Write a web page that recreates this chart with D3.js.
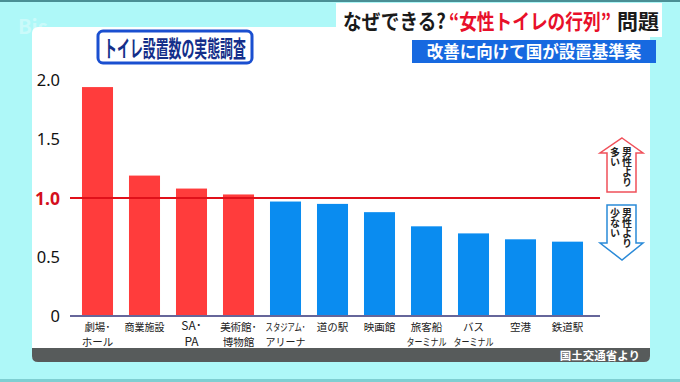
<!DOCTYPE html>
<html><head><meta charset="utf-8">
<script src="https://cdn.jsdelivr.net/npm/d3@7/dist/d3.min.js"></script>
<style>
html,body{margin:0;padding:0;background:#aef8f8;}
svg{display:block;font-family:"Noto Sans CJK JP","Noto Sans",sans-serif;}
</style></head>
<body>
<svg id="c" width="680" height="382"></svg>
<script>
const categories = ["劇場･\nホール","商業施設","SA･\nPA","美術館･\n博物館","スタジアム･\nアリーナ","道の駅","映画館","旅客船\nターミナル","バス\nターミナル","空港","鉄道駅"];
const values = [1.94, 1.19, 1.08, 1.03, 0.97, 0.95, 0.88, 0.76, 0.70, 0.65, 0.63];
const yTicks = [0, 0.5, 1.0, 1.5, 2.0];
const yTickLabels = ["0", "0.5", "1.0", "1.5", "2.0"];
const referenceValue = 1.0;
const title = "トイレ設置数の実態調査";
const headlineParts = ["なぜできる?", "“女性トイレの行列”", "問題"];
const subHeadline = "改善に向けて国が設置基準案";
const source = "国土交通省より";
const upLabel = ["男性より","多い"];
const downLabel = ["男性より","少ない"];

const svg = d3.select("#c");
const RED = "#ff3c3c", BLUE = "#0a8cf0", LINE_RED = "#e0101a";

// place a text at (x,y) with anchor, horizontally squeezed to fit maxW
function fitText(parent, str, x0, y0, maxW, anchor, attrs){
  const t = parent.append("text").attr("text-anchor",anchor).text(str);
  Object.entries(attrs).forEach(([k,v])=>t.attr(k,v));
  const w = t.node().getComputedTextLength();
  const s = w > maxW ? maxW / w : 1;
  t.attr("transform",`translate(${x0},${y0}) scale(${s},1)`);
  return t;
}

// background
svg.append("rect").attr("width",680).attr("height",382).attr("fill","#aef8f8");
svg.append("rect").attr("x",0).attr("y",0).attr("width",680).attr("height",2).attr("fill","#4a8f95");
svg.append("rect").attr("x",0).attr("y",379).attr("width",680).attr("height",3).attr("fill","#7fcfd2");
// faint logo
svg.append("text").attr("x",18).attr("y",34).attr("font-size",20).attr("font-weight",700)
  .attr("fill","#ffffff").attr("opacity",0.35).text("Bis");

// white panel
svg.append("rect").attr("x",32).attr("y",27).attr("width",618).attr("height",335).attr("rx",6).attr("fill","#ffffff");
// footer band
svg.append("path").attr("d","M32,348 H650 V356 Q650,362 644,362 H38 Q32,362 32,356 Z").attr("fill","#575b5b");
svg.append("text").attr("x",640).attr("y",359.5).attr("text-anchor","end").attr("font-size",11.5)
  .attr("font-weight",700).attr("fill","#ffffff").text(source);

// header white box
svg.append("rect").attr("x",336).attr("y",3).attr("width",326).attr("height",34).attr("fill","#ffffff");
const hx = [343, 449, 617], hw = [103, 162, 42], hc = ["#1a1a1a","#e8102a","#1a1a1a"];
headlineParts.forEach((p,i)=>{
  fitText(svg, p, hx[i], 29, hw[i], "start", {"font-size":21,"font-weight":700,"fill":hc[i]});
});
// sub header
svg.append("rect").attr("x",412).attr("y",40).attr("width",244).attr("height",23).attr("fill","#1769e0");
svg.append("text").attr("x",534).attr("y",58).attr("text-anchor","middle").attr("font-size",16.5).attr("font-weight",700)
  .attr("fill","#ffffff").text(subHeadline);

// title box
svg.append("rect").attr("x",98).attr("y",31).attr("width",154).attr("height",32).attr("rx",5)
  .attr("fill","#ffffff").attr("stroke","#1a4fd0").attr("stroke-width",3);
fitText(svg, title, 175, 56.5, 142, "middle", {"font-size":23,"font-weight":700,"fill":"#142f8a"});

// scales
const x = d3.scaleBand().domain(categories).range([74, 591]).paddingInner(0.34).paddingOuter(0.17);
const y = d3.scaleLinear().domain([0, 2]).range([316, 80]);

// y labels
const yAxis = d3.axisLeft(y).tickValues(yTicks).tickSize(0).tickPadding(0)
  .tickFormat((d,i)=>yTickLabels[i]);
const ga = svg.append("g").attr("transform","translate(60,0)").call(yAxis);
ga.select(".domain").remove();
ga.selectAll("text").attr("font-size",16.5).attr("fill","#111").attr("font-family","'Noto Sans','Noto Sans CJK JP',sans-serif")
  .attr("dy","0.36em")
  .filter(d=>d===referenceValue).attr("fill","#d4101c").attr("font-weight",700).attr("font-size",17.5);

// bars
svg.append("g").selectAll("rect").data(values).join("rect")
  .attr("x",(d,i)=>x(categories[i])).attr("width",x.bandwidth())
  .attr("y",d=>y(d)).attr("height",d=>y(0)-y(d))
  .attr("fill",d=>d>referenceValue?RED:BLUE);

// reference line
svg.append("line").attr("x1",70).attr("x2",600).attr("y1",y(referenceValue)).attr("y2",y(referenceValue))
  .attr("stroke",LINE_RED).attr("stroke-width",2);
// baseline
svg.append("line").attr("x1",70).attr("x2",600).attr("y1",y(0)).attr("y2",y(0))
  .attr("stroke","#66669a").attr("stroke-width",2);

// x labels (one text per line)
const labelG = svg.append("g");
categories.forEach(d=>{
  const cx = x(d)+x.bandwidth()/2;
  d.split("\n").forEach((l,i)=>{
    const latin = /^[A-Z]/.test(l);
    fitText(labelG, l, cx, latin ? 330+i*16 : 331+i*15, 40, "middle",
      {"font-size": latin?12:10.5, "fill":"#222"});
  });
});

// arrows
svg.append("path").attr("d","M622,138 L643,153 L636,153 L636,192 L607,192 L607,153 L600,153 Z")
  .attr("fill","#ffffff").attr("stroke","#f0505a").attr("stroke-width",1.5);
svg.append("path").attr("d","M607,205 L636,205 L636,243 L643,243 L622,260 L600,243 L607,243 Z")
  .attr("fill","#ffffff").attr("stroke","#2a8ad8").attr("stroke-width",1.5);

function vtext(cx, y0, str){
  svg.append("text").attr("x",cx).attr("y",y0)
    .style("writing-mode","vertical-rl").style("text-orientation","upright")
    .attr("font-size",10).attr("font-weight",700).attr("fill","#222").text(str);
}
vtext(627, 147, upLabel[0]);
vtext(615, 147, upLabel[1]);
vtext(627, 208, downLabel[0]);
vtext(615, 208, downLabel[1]);
</script>
</body></html>
